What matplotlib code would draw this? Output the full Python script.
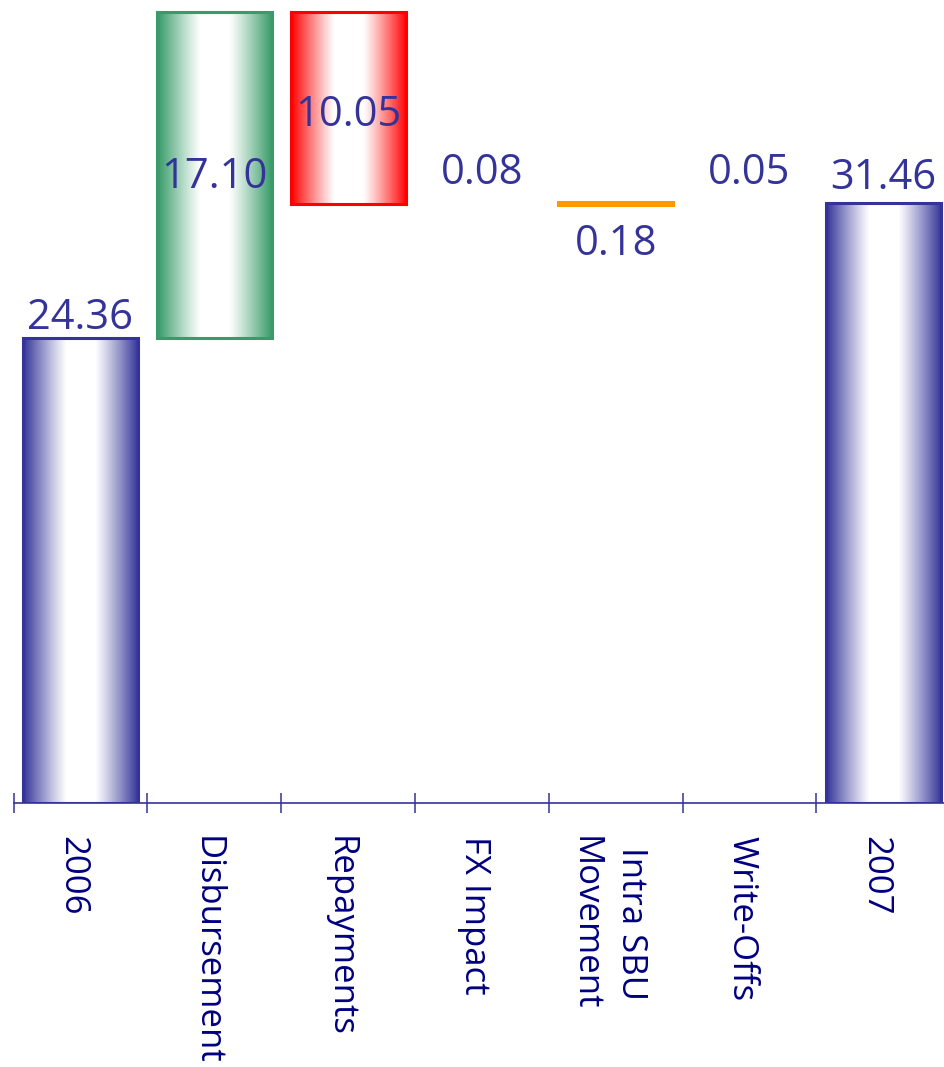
import numpy as np
import matplotlib
matplotlib.use("Agg")
import matplotlib.pyplot as plt
from matplotlib.colors import to_rgb
from matplotlib.transforms import offset_copy, ScaledTranslation

# --- data -------------------------------------------------------------
categories = ["2006", "Disbursement", "Repayments", "FX Impact",
              "Intra SBU\nMovement", "Write-Offs", "2007"]
opening = 24.36
changes = [17.10, -10.05, -0.08, 0.18, -0.05]
closing = 31.46

# --- styling ----------------------------------------------------------
fill_colors = ["#333399", "#339966", "#FF0000", "#FFFFFF", "#FF9900", "#FFFFFF", "#333399"]
edge_colors = ["#333399", "#3A9A6A", "#FF0000", "none", "#FF9900", "none", "#333399"]
gradient = [True, True, True, False, False, False, True]
label_mode = ["above", "center", "center", "above", "below", "above", "above"]
label_offset_pt = [7, -9, -13, 14, -36, 13, 10]
text_color = "#333399"
tick_color = "#000080"
font = "Open Sans"

# --- waterfall geometry -------------------------------------------------
steps = np.array(changes)
levels = opening + np.concatenate([[0], np.cumsum(steps)])
bottoms = [0.0] + list(np.minimum(levels[:-1], levels[1:])) + [0.0]
heights = [opening] + list(np.abs(steps)) + [closing]
values = [opening] + list(np.abs(steps)) + [closing]
x = np.arange(len(categories))

fig = plt.figure(figsize=(9.44, 10.67), dpi=100)
ax = fig.add_axes([13.5 / 944, 264 / 1067, 936.8 / 944, 803 / 1067])

bars = ax.bar(x, heights, bottom=bottoms, width=0.86,
              color=fill_colors, edgecolor=edge_colors, linewidth=2.2, zorder=3)

# horizontal "cylinder" shading: solid colour at the sides, white in the middle
t = np.linspace(0, 1, 256)
d = np.abs(t - 0.5) * 2
f = np.clip((d - 0.25) / 0.75, 0, 1) ** 1.1
for bar, col, grad in zip(bars, fill_colors, gradient):
    if not grad:
        continue
    rgb = np.array(to_rgb(col))
    img = (1 - f)[:, None] * np.ones(3) + f[:, None] * rgb
    x0, y0 = bar.get_x(), bar.get_y()
    w, h = bar.get_width(), bar.get_height()
    bar.set_facecolor("none")
    im = ax.imshow(img[None, :, :], extent=(x0, x0 + w, y0, y0 + h),
                   aspect="auto", interpolation="bilinear", zorder=2)
    im.set_clip_path(bar)

# value labels
for xi, b, h, v, mode, off in zip(x, bottoms, heights, values, label_mode, label_offset_pt):
    if mode == "above":
        y = b + h
    elif mode == "below":
        y = b
    else:
        y = b + h / 2
    tr = offset_copy(ax.transData, fig=fig, x=0, y=off, units="points")
    ax.text(xi, y, f"{v:.2f}", transform=tr, ha="center", va="baseline",
            fontsize=30, color=text_color, family=font, zorder=5)

# axes
ax.set_xlim(-0.5, 6.5)
ax.set_ylim(0, 42.09)
for side in ["top", "left", "right"]:
    ax.spines[side].set_visible(False)
ax.spines["bottom"].set_color("#333399")
ax.spines["bottom"].set_linewidth(1.2)
ax.set_yticks([])

ax.set_xticks(np.arange(-0.5, 6.5, 1.0))
ax.set_xticklabels([])
ax.tick_params(axis="x", which="major", direction="inout", length=15,
               width=1.1, color="#333399")
ax.set_xticks(x, minor=True)
labels = ax.set_xticklabels(categories, minor=True, rotation=270, ha="center", va="top",
                            multialignment="center", fontsize=25, color=tick_color,
                            family=font, linespacing=1.45)
ax.tick_params(axis="x", which="minor", length=0, pad=24)
shift = ScaledTranslation(-8 / 100, 0, fig.dpi_scale_trans)
for lab in labels:
    lab.set_transform(lab.get_transform() + shift)

fig.savefig("out.png", dpi=100)
